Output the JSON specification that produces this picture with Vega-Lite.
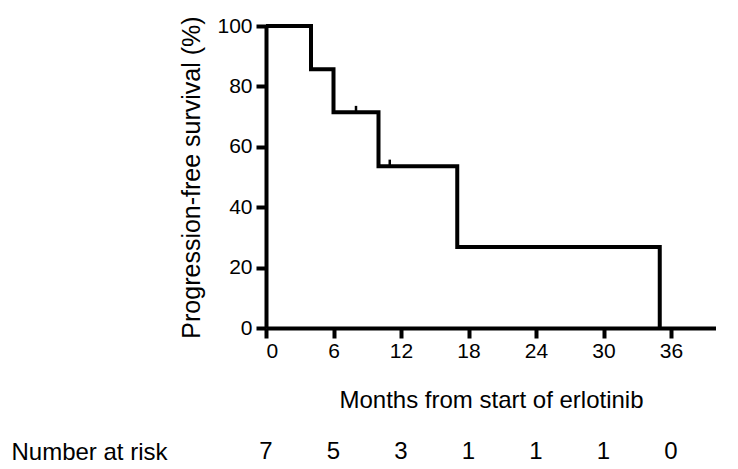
{
  "$schema": "https://vega.github.io/schema/vega-lite/v6.json",
  "padding": {"left": 10, "top": 15, "right": 0, "bottom": 0},
  "bounds": "flush",
  "spacing": 114,
  "background": "white",
  "config": {
    "font": "Liberation Sans",
    "view": {"stroke": null},
    "axis": {
      "labelColor": "black",
      "titleColor": "black",
      "domainColor": "black",
      "tickColor": "black",
      "domainWidth": 4,
      "tickWidth": 4,
      "tickSize": 10,
      "labelFont": "Liberation Sans",
      "titleFont": "Liberation Sans",
      "titleFontWeight": "normal",
      "grid": false
    },
    "axisQuantitative": {
      "domainColor": "black",
      "tickColor": "black",
      "domainWidth": 4,
      "tickWidth": 4,
      "tickSize": 10
    }
  },
  "datasets": {
    "km": [
      {"month": 0, "pfs": 100},
      {"month": 4, "pfs": 85.7},
      {"month": 6, "pfs": 71.4},
      {"month": 10, "pfs": 53.6},
      {"month": 17, "pfs": 26.8},
      {"month": 35, "pfs": 0}
    ],
    "censor": [
      {"month": 8, "pfs": 71.4},
      {"month": 11, "pfs": 53.6}
    ],
    "risk": [
      {"month": 0, "n": 7, "label": "Number at risk"},
      {"month": 6, "n": 5, "label": "Number at risk"},
      {"month": 12, "n": 3, "label": "Number at risk"},
      {"month": 18, "n": 1, "label": "Number at risk"},
      {"month": 24, "n": 1, "label": "Number at risk"},
      {"month": 30, "n": 1, "label": "Number at risk"},
      {"month": 36, "n": 0, "label": "Number at risk"}
    ]
  },
  "vconcat": [
    {
      "width": 450,
      "height": 302,
      "encoding": {
        "x": {
          "field": "month", "type": "quantitative",
          "scale": {"domain": [0, 40], "nice": false},
          "axis": {
            "values": [0, 6, 12, 18, 24, 30, 36],
            "domainColor": "black", "tickColor": "black",
            "domainWidth": 4, "tickWidth": 4, "tickSize": 10,
            "labelFontSize": 21, "labelPadding": 2,
            "title": "Months from start of erlotinib",
            "titleFontSize": 24, "titlePadding": 27
          }
        },
        "y": {
          "field": "pfs", "type": "quantitative",
          "scale": {"domain": [0, 100], "nice": false},
          "axis": {
            "values": [0, 20, 40, 60, 80, 100],
            "domainColor": "black", "tickColor": "black",
            "domainWidth": 4, "tickWidth": 4, "tickSize": 10,
            "labelFontSize": 21, "labelPadding": 4,
            "title": "Progression-free survival (%)",
            "titleFontSize": 25, "titlePadding": 12
          }
        }
      },
      "layer": [
        {
          "data": {"name": "km"},
          "mark": {"type": "line", "interpolate": "step-after", "color": "black", "strokeWidth": 4}
        },
        {
          "data": {"name": "censor"},
          "mark": {"type": "tick", "orient": "vertical", "color": "black", "opacity": 1, "size": 7, "thickness": 2.5, "yOffset": -3}
        }
      ]
    },
    {
      "width": 450,
      "height": 20,
      "data": {"name": "risk"},
      "mark": {"type": "text", "fontSize": 24, "color": "black", "font": "Liberation Sans"},
      "encoding": {
        "x": {"field": "month", "type": "quantitative", "scale": {"domain": [0, 40], "nice": false}, "axis": null},
        "y": {"field": "label", "type": "nominal", "axis": {"title": null, "domain": false, "ticks": false, "labelFontSize": 24, "labelPadding": 99}},
        "text": {"field": "n", "type": "quantitative"}
      }
    }
  ]
}
